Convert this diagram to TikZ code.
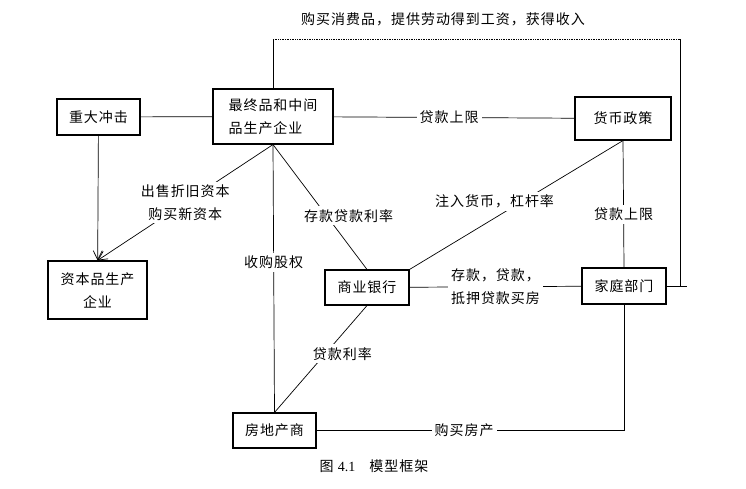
\documentclass[tikz,border=0pt]{standalone}
\usepackage{fontspec}
\setmainfont{Noto Sans CJK SC}[LetterSpace=7]
\newfontfamily\latinfont{Liberation Serif}
\usetikzlibrary{arrows.meta}

\begin{document}
\begin{tikzpicture}[x=1pt,y=-1pt,
        font=\fontsize{14}{23}\selectfont,
        box/.style={draw,line width=1.1pt,inner sep=0pt},
        lbl/.style={fill=white,inner sep=3pt,align=center},
        link/.style={line width=0.7pt}]
        \useasboundingbox (0,0) rectangle (746,488);
        % Boxes
        \node[box,minimum width=83,minimum height=36] (shock) at (98.5,117) {重大冲击};
        \node[box,minimum width=120,minimum height=55,align=left] (firm) at (273,116.5) {最终品和中间\\品生产企业};
        \node[box,minimum width=96,minimum height=43] (policy) at (623,118.5) {货币政策};
        \node[box,minimum width=99,minimum height=58,align=center] (capital) at (97.5,290) {资本品生产\\企业};
        \node[box,minimum width=84,minimum height=35] (bank) at (367,287.5) {商业银行};
        \node[box,minimum width=84,minimum height=36] (home) at (624,286) {家庭部门};
        \node[box,minimum width=83,minimum height=35] (estate) at (274.5,430.5) {房地产商};
        \coordinate (topR) at (680,39);
        \coordinate (homeR) at (687,286);
        % Links
        \draw[link] (shock) -- (firm);
        \draw[link] (firm) -- node[lbl,pos=0.48] (lCap) {贷款上限} (policy);
        \draw[link,-{Straight Barb[length=9pt,width=9pt]}] (shock) -- (capital);
        \draw[link,-{Straight Barb[length=9pt,width=9pt]}] (firm.south) -- node[lbl] (lSell) {出售折旧资本\\购买新资本} (capital.north);
        \draw[link] (firm.south) -- node[lbl,pos=0.44] (lBuy) {收购股权} (estate.north);
        \draw[link] (firm.south) -- node[lbl,pos=0.57,xshift=22] (lRate) {存款贷款利率} (bank.north);
        \draw[link] (policy.south) -- node[lbl,pos=0.48,yshift=1,xshift=-26] (lInject) {注入货币，杠杆率} (bank.north east);
        \draw[link] (policy.south) -- node[lbl,pos=0.58] (lLimit) {贷款上限} (home.north);
        \draw[link] (bank) -- node[lbl,align=left] (lDeposit) {存款，贷款，\\抵押贷款买房} (home);
        \draw[link] (bank.south) -- node[lbl,pos=0.45,xshift=17] (lLoan) {贷款利率} (estate.north);
        \draw[link] (home.south) |- node[lbl,pos=0.76] (lHouse) {购买房产} (estate.east);
        % Income loop
        \draw[link] (firm.north) -- (firm.north |- topR);
        \draw[link,dash pattern=on 1pt off 0.7pt] (firm.north |- topR) -- (topR);
        \draw[link] (topR) -- (topR |- home.east);
        \draw[link] (home.east) -- (homeR);
        \node (lIncome) at (443,19) {购买消费品，提供劳动得到工资，获得收入};
        % Caption
        \node (caption) at (374,466) {图 {\latinfont 4.1}\quad 模型框架};
\end{tikzpicture}
\end{document}
